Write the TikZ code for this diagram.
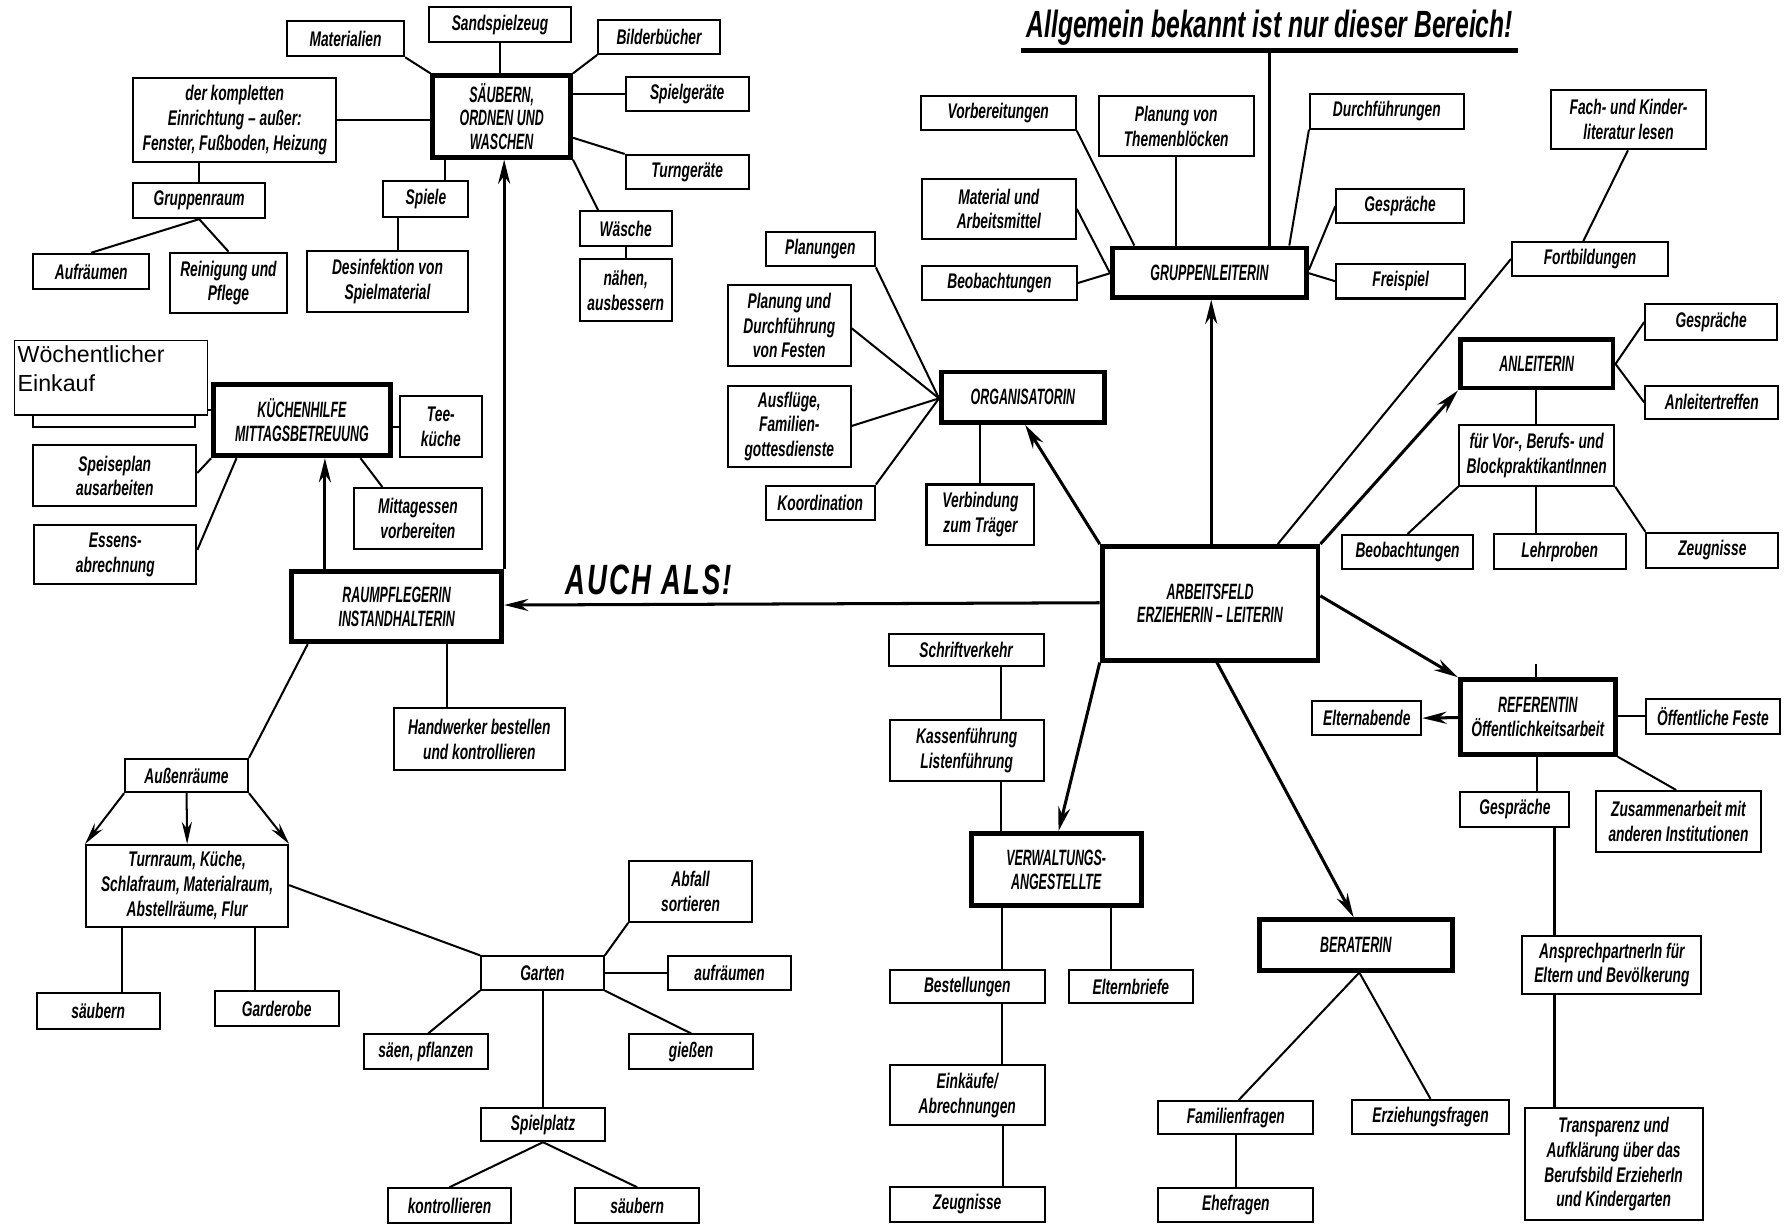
\documentclass[tikz,border=0pt]{standalone}
\usepackage{fontspec}
\usetikzlibrary{arrows.meta}
\newfontfamily\labfam{Liberation Sans}[FakeStretch=0.65]
\newfontfamily\hdfam{Liberation Sans}[FakeStretch=0.56]
\newfontfamily\plainfam{Liberation Sans}
\newcommand\labfont{\labfam\bfseries\itshape\fontsize{10.5}{12.3}\selectfont}
\newcommand\hdfont{\hdfam\bfseries\itshape\fontsize{11}{11.8}\selectfont}
\newcommand\mkbox[7][]{\node[box,#1,minimum width={(#5-#3)*0.2mm},minimum height={(#6-#4)*0.2mm}] (#2) at ({(#3+#5)/2},{(#4+#6)/2}) {#7};}
\tikzset{
 box/.style={draw, line width=1pt, inner sep=1pt, align=center, font=\labfont},
 hbox/.style={line width=2.4pt, font=\hdfont},
 con/.style={line width=1pt},
 arr/.style={line width=1.5pt, -{Stealth[length=12pt,width=6pt]}},
 woebox/.style={draw, line width=0.6pt, fill=white, inner sep=0pt},
 woetext/.style={font=\plainfam\fontsize{11.5}{14}\selectfont, align=left, inner sep=0pt},
}
\begin{document}
\begin{tikzpicture}[x=0.2mm,y=-0.2mm]
\fill[white] (0,0) rectangle (1560,1066);
\useasboundingbox (0,0) rectangle (1560,1066);

% ---------- top-left cluster ----------
\mkbox{mat}{250}{18}{352}{49}{Materialien}
\mkbox{sand}{374}{6}{497}{37}{Sandspielzeug}
\mkbox{bild}{521}{17}{627}{47}{Bilderbücher}
\mkbox{spg}{545}{67}{652}{97}{Spielgeräte}
\mkbox[hbox]{sau}{377}{66}{497}{137}{SÄUBERN,\\ORDNEN UND\\WASCHEN}
\mkbox{kompl}{116}{68}{293}{141}{der kompletten\\Einrichtung – außer:\\Fenster, Fußboden, Heizung}
\mkbox{turn}{545}{135}{652}{165}{Turngeräte}
\mkbox{gruppe}{116}{159}{231}{190}{Gruppenraum}
\mkbox{spiele}{334}{158}{408}{189}{Spiele}
\mkbox{wae}{505}{184}{585}{214}{Wäsche}
\mkbox{aufr}{29}{221}{130}{252}{Aufräumen}
\mkbox{rein}{148}{220}{250}{273}{Reinigung und\\Pflege}
\mkbox{desi}{267}{219}{408}{272}{Desinfektion von\\Spielmaterial}
\mkbox{naeh}{505}{226}{585}{280}{nähen,\\ausbessern}

% ---------- left-middle cluster ----------
\mkbox{obst}{29}{318}{170}{372}{}
\mkbox[hbox]{kue}{186}{335}{340}{397}{KÜCHENHILFE\\MITTAGSBETREUUNG}
\mkbox{tee}{348}{345}{420}{398}{Tee-\\küche}
\mkbox{mitt}{308}{425}{420}{478}{Mittagessen\\vorbereiten}
\mkbox{spp}{29}{388}{171}{441}{Speiseplan\\ausarbeiten}
\mkbox{ess}{30}{457}{171}{509}{Essens-\\abrechnung}
\mkbox[hbox]{raum}{254}{498}{437}{559}{RAUMPFLEGERIN\\INSTANDHALTERIN}
\mkbox{hand}{343}{617}{492}{671}{Handwerker bestellen\\und kontrollieren}
\mkbox{auss}{109}{661}{216}{690}{Außenräume}

% ---------- bottom-left cluster ----------
\mkbox{tur}{75}{736}{251}{807}{Turnraum, Küche,\\Schlafraum, Materialraum,\\Abstellräume, Flur}
\mkbox{saeua}{32}{865}{139}{896}{säubern}
\mkbox{gard}{187}{863}{295}{894}{Garderobe}
\mkbox{gart}{419}{833}{526}{862}{Garten}
\mkbox{abf}{548}{750}{655}{803}{Abfall\\sortieren}
\mkbox{aufrb}{582}{833}{689}{862}{aufräumen}
\mkbox{saen}{317}{901}{425}{931}{säen, pflanzen}
\mkbox{gies}{548}{901}{656}{931}{gießen}
\mkbox{spl}{419}{965}{527}{994}{Spielplatz}
\mkbox{kon}{338}{1035}{445}{1065}{kontrollieren}
\mkbox{saeub}{501}{1035}{609}{1065}{säubern}

% ---------- center cluster ----------
\mkbox{vorb}{802}{84}{937}{113}{Vorbereitungen}
\mkbox{plan}{957}{84}{1092}{136}{Planung von\\Themenblöcken}
\mkbox{durch}{1141}{82}{1275}{112}{Durchführungen}
\mkbox{matar}{803}{156}{937}{208}{Material und\\Arbeitsmittel}
\mkbox{gespa}{1164}{165}{1275}{194}{Gespräche}
\mkbox{plng}{667}{202}{762}{232}{Planungen}
\mkbox{beoba}{803}{232}{938}{261}{Beobachtungen}
\mkbox[hbox]{gl}{969}{216}{1138}{259}{GRUPPENLEITERIN}
\mkbox{frei}{1164}{230}{1276}{260}{Freispiel}
\mkbox{fest}{634}{248}{741}{319}{Planung und\\Durchführung\\von Festen}
\mkbox{ausf}{634}{336}{741}{407}{Ausflüge,\\Familien-\\gottesdienste}
\mkbox[hbox]{org}{820}{324}{962}{368}{ORGANISATORIN}
\mkbox{koord}{667}{423}{762}{453}{Koordination}
\mkbox{verb}{807}{422}{901}{475}{Verbindung\\zum Träger}
\mkbox[hbox]{arb}{960}{476}{1148}{575}{ARBEITSFELD\\ERZIEHERIN – LEITERIN}

% ---------- right cluster ----------
\mkbox{fach}{1351}{78}{1486}{130}{Fach- und Kinder-\\literatur lesen}
\mkbox{fort}{1317}{211}{1453}{240}{Fortbildungen}
\mkbox[hbox]{anl}{1272}{296}{1405}{338}{ANLEITERIN}
\mkbox{gespb}{1433}{265}{1548}{296}{Gespräche}
\mkbox{anlt}{1433}{336}{1549}{365}{Anleitertreffen}
\mkbox{fuer}{1271}{370}{1406}{423}{für Vor-, Berufs- und\\BlockpraktikantInnen}
\mkbox{beobb}{1169}{466}{1283}{496}{Beobachtungen}
\mkbox{lehr}{1301}{465}{1416}{496}{Lehrproben}
\mkbox{zeuga}{1434}{464}{1549}{495}{Zeugnisse}

% ---------- bottom-right cluster ----------
\mkbox{schr}{774}{552}{909}{580}{Schriftverkehr}
\mkbox{kass}{775}{627}{909}{680}{Kassenführung\\Listenführung}
\mkbox[hbox]{verw}{846}{726}{994}{789}{VERWALTUNGS-\\ANGESTELLTE}
\mkbox{best}{775}{845}{910}{874}{Bestellungen}
\mkbox{elt}{931}{845}{1039}{874}{Elternbriefe}
\mkbox{eink}{775}{928}{910}{980}{Einkäufe/\\Abrechnungen}
\mkbox{zeugb}{775}{1034}{910}{1064}{Zeugnisse}
\mkbox[hbox]{ber}{1097}{801}{1265}{845}{BERATERIN}
\mkbox{fam}{1009}{959}{1144}{988}{Familienfragen}
\mkbox{ehe}{1009}{1035}{1144}{1064}{Ehefragen}
\mkbox{erz}{1178}{958}{1314}{988}{Erziehungsfragen}
\mkbox[line width=2.4pt]{ref}{1272}{592}{1407}{657}{{\hdfont REFERENTIN}\\Öffentlichkeitsarbeit}
\mkbox{elta}{1143}{611}{1238}{640}{Elternabende}
\mkbox{oeff}{1434}{609}{1550}{639}{Öffentliche Feste}
\mkbox{gespc}{1272}{690}{1367}{720}{Gespräche}
\mkbox{zus}{1390}{689}{1534}{742}{Zusammenarbeit mit\\anderen Institutionen}
\mkbox{ansp}{1326}{815}{1482}{866}{AnsprechpartnerIn für\\Eltern und Bevölkerung}
\mkbox{trans}{1328}{965}{1483}{1063}{Transparenz und\\Aufklärung über das\\Berufsbild ErzieherIn\\und Kindergarten}

% ---------- headings ----------
\node[anchor=base, inner sep=0pt, font=\labfam\bfseries\itshape\fontsize{18.8}{22}\selectfont] (title) at (1106,33) {Allgemein bekannt ist nur dieser Bereich!};
\node[anchor=base, inner sep=0pt, font=\labfam\bfseries\itshape\fontsize{21}{24}\selectfont] (auch) at (565,518) {A\kern1pt U\kern1pt C\kern1pt H\hspace{5pt}A\kern1pt L\kern1pt S\kern1pt !};
\coordinate (ulA) at (889,44);
\coordinate (ulB) at (1322,44);
\coordinate (ulM) at (1106,44);
\coordinate (stub) at (1338,578);
\draw[line width=2.2pt] (ulA) -- (ulB);
\draw[line width=1.3pt] (ulM) -- (ulM |- gl.north);

% ---------- connectors: top-left ----------
\draw[con] (mat.south east) -- (sau.north west);
\draw[con] (sand.south) -- (sand.south |- sau.north);
\draw[con] (bild.south west) -- (sau.north east);
\draw[con] (spg.west) -- (spg.west -| sau.east);
\draw[con] (kompl.east) -- (kompl.east -| sau.west);
\draw[con] (sau.east |- 0,120) -- (turn.north west);
\draw[con] (sau.south east) -- (wae.north -| 521,0);
\draw[con] (sau.south -| 388,0) -- (spiele.north -| 388,0);
\draw[con] (spiele.south -| 347,0) -- (desi.north -| 347,0);
\draw[con] (gruppe.north |- kompl.south) -- (gruppe.north);
\draw[con] (gruppe.south) -- (aufr.north);
\draw[con] (gruppe.south) -- (rein.north);
\draw[con] (wae.south) -- (naeh.north);

% ---------- connectors: left-middle ----------
\draw[con] (obst.east |- 0,357) -- (kue.west |- 0,357);
\draw[con] (kue.east |- 0,372) -- (tee.west |- 0,372);
\draw[con] (kue.south -| 314,0) -- (mitt.north -| 333,0);
\draw[con] (spp.east |- 0,412) -- (kue.south west);
\draw[con] (ess.east |- 0,479) -- (kue.south -| 206,0);
\draw[arr] (raum.north -| 283,0) -- (kue.south -| 283,0);
\draw[arr] (raum.north east) -- (raum.north east |- sau.south);
\draw[arr] (arb.west |- 0,525) -- (raum.east |- 0,527);
\draw[con] (raum.south -| 389,0) -- (hand.north -| 389,0);
\draw[con] (raum.south -| 268,0) -- (auss.north east);

% ---------- connectors: bottom-left ----------
\draw[con, -{Stealth[length=11pt,width=5pt]}] (auss.south west) -- (tur.north west);
\draw[con, -{Stealth[length=11pt,width=5pt]}] (auss.south) -- (tur.north);
\draw[con, -{Stealth[length=11pt,width=5pt]}] (auss.south east) -- (tur.north east);
\draw[con] (tur.south -| 106,0) -- (saeua.north -| 106,0);
\draw[con] (tur.south -| 222,0) -- (gard.north -| 222,0);
\draw[con] (tur.east |- 0,771) -- (gart.north west);
\draw[con] (gart.north east) -- (abf.south west);
\draw[con] (gart.east) -- (aufrb.west);
\draw[con] (gart.south west) -- (saen.north -| 373,0);
\draw[con] (gart.south east) -- (gies.north);
\draw[con] (gart.south -| 473,0) -- (spl.north -| 473,0);
\draw[con] (spl.south) -- (kon.north);
\draw[con] (spl.south) -- (saeub.north);

% ---------- connectors: center ----------
\draw[con] (vorb.south east) -- (gl.north -| 988,0);
\draw[con] (plan.south) -- (plan.south |- gl.north);
\draw[con] (durch.south west) -- (gl.north -| 1123,0);
\draw[con] (matar.east) -- (gl.west |- 0,238);
\draw[con] (beoba.east) -- (gl.west |- 0,238);
\draw[con] (gespa.west) -- (gl.east |- 0,235);
\draw[con] (frei.west) -- (gl.east |- 0,238);
\draw[arr] (arb.north -| 1055,0) -- (gl.south -| 1055,0);
\draw[con] (plng.south east) -- (org.west |- 0,347);
\draw[con] (fest.east |- 0,286) -- (org.west |- 0,347);
\draw[con] (ausf.east |- 0,371) -- (org.west |- 0,347);
\draw[con] (koord.north east) -- (org.west |- 0,347);
\draw[con] (org.south -| 854,0) -- (verb.north -| 854,0);
\draw[arr] (arb.north west) -- (org.south -| 893,0);

% ---------- connectors: right ----------
\draw[con] (fach.south -| 1418,0) -- (fort.north -| 1379,0);
\draw[con] (fort.west) -- (arb.north -| 1113,0);
\draw[arr] (arb.north east) -- (anl.south west);
\draw[con] (anl.east) -- (gespb.west);
\draw[con] (anl.east) -- (anlt.west);
\draw[con] (anl.south -| 1338,0) -- (fuer.north -| 1338,0);
\draw[con] (fuer.south west) -- (beobb.north);
\draw[con] (fuer.south -| 1338,0) -- (lehr.north -| 1338,0);
\draw[con] (fuer.south east) -- (zeuga.north west);

% ---------- connectors: bottom-right ----------
\draw[con] (schr.south -| 872,0) -- (kass.north -| 872,0);
\draw[con] (kass.south -| 872,0) -- (verw.north -| 872,0);
\draw[arr] (arb.south west) -- (verw.north -| 922,0);
\draw[con] (verw.south -| 873,0) -- (best.north -| 873,0);
\draw[con] (verw.south -| 968,0) -- (elt.north -| 968,0);
\draw[con] (best.south -| 873,0) -- (eink.north -| 873,0);
\draw[con] (eink.south -| 874,0) -- (zeugb.north -| 874,0);
\draw[arr] (arb.south -| 1060,0) -- (ber.north -| 1179,0);
\draw[con] (ber.south -| 1184,0) -- (fam.north -| 1079,0);
\draw[con] (ber.south -| 1184,0) -- (erz.north -| 1246,0);
\draw[con] (fam.south) -- (ehe.north);
\draw[arr] (arb.east |- 0,519) -- (ref.north west);
\draw[con] (stub) -- (stub |- ref.north);
\draw[arr] (ref.west |- 0,625) -- (elta.east);
\draw[con] (ref.east |- 0,624) -- (oeff.west);
\draw[con] (ref.south -| 1339,0) -- (gespc.north -| 1339,0);
\draw[con] (ref.south east) -- (zus.north -| 1460,0);
\draw[con] (gespc.south -| 1354,0) -- (ansp.north -| 1354,0);
\draw[con] (ansp.south -| 1354,0) -- (trans.north -| 1354,0);

% ---------- overlay note ----------
\node[woebox, anchor=north west, minimum width={168*0.2mm}, minimum height={65*0.2mm}] (woe) at (12,296) {};
\node[woetext, anchor=north west] (woet) at (15,301) {Wöchentlicher\\Einkauf};
\end{tikzpicture}
\end{document}
